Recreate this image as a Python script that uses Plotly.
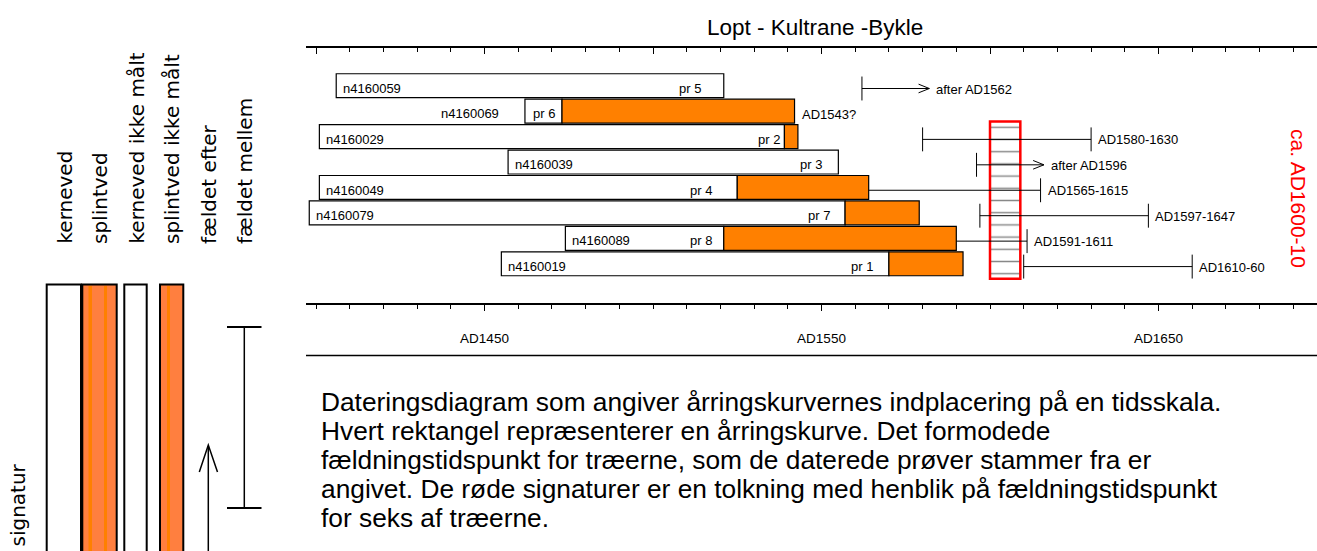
import plotly.graph_objects as go

W, H = 1317, 551

# ---------------- data ----------------
samples = ["n4160059", "n4160069", "n4160029", "n4160039",
           "n4160049", "n4160079", "n4160089", "n4160019"]
probes = ["pr 5", "pr 6", "pr 2", "pr 3", "pr 4", "pr 7", "pr 8", "pr 1"]
first_year = [1406, 1462, 1401, 1457, 1401, 1398, 1474, 1455]
sapwood_start = [None, 1473, 1539, None, 1525, 1557, 1521, 1570]
last_year = [1521, 1542, 1543, 1555, 1564, 1579, 1590, 1592]
felling_from = [1562, None, 1580, 1596, 1565, 1597, 1591, 1610]
felling_to = [None, None, 1630, None, 1615, 1647, 1611, 1660]
felling_labels = ["after AD1562", "AD1543?", "AD1580-1630", "after AD1596",
                  "AD1565-1615", "AD1597-1647", "AD1591-1611", "AD1610-60"]
tick_years = [1400, 1450, 1500, 1550, 1600, 1650]
tick_labels = ["", "AD1450", "", "AD1550", "", "AD1650"]
minor_tick_years = list(range(1400, 1700, 10))
interp_years = [1600, 1609]
interp_rows = ["n4160029", "n4160019"]
interp_label = "ca. AD1600-10"
title = "Lopt - Kultrane -Bykle"
legend_labels = ["kerneved", "splintved", "kerneved ikke målt",
                 "splintved ikke målt", "fældet efter", "fældet mellem"]
caption_lines = [
    "Dateringsdiagram som angiver årringskurvernes indplacering på en tidsskala.",
    "Hvert rektangel repræsenterer en årringskurve. Det formodede",
    "fældningstidspunkt for træerne, som de daterede prøver stammer fra er",
    "angivet. De røde signaturer er en tolkning med henblik på fældningstidspunkt",
    "for seks af træerne.",
]

# ---------------- style ----------------
ORANGE = "#FF8000"
LEG_ORANGE = "#FF7F3F"
FONT = "Liberation Sans, Arial, sans-serif"
LEG_FONT = "DejaVu Sans, sans-serif"
BAR_W = 0.94
CAP = 0.47
WY = 0.11          # whisker offset (rows)
ARROW_LEN = 20
HEAD_X, HEAD_Y = 3.2, 0.17
pr_gap_px = [22, 6, 3, 15, 24, 14, 11, 15]
name_outside = [False, True, False, False, False, False, False, False]
BOX_PAD = 0.59


def px(x):
    return x / W


def py(y):
    return 1 - y / H


n = len(samples)
rows = list(range(n))

fig = go.Figure()

# heartwood (white) segments
w_base, w_len = [], []
for i in rows:
    end = sapwood_start[i] if sapwood_start[i] is not None else last_year[i]
    w_base.append(first_year[i])
    w_len.append(end - first_year[i])
fig.add_trace(go.Bar(orientation="h", y=rows, x=w_len, base=w_base, width=BAR_W,
                     marker=dict(color="white", line=dict(color="black", width=1.2)),
                     hoverinfo="skip", showlegend=False))

# sapwood (orange) segments
o_rows, o_base, o_len = [], [], []
for i in rows:
    if sapwood_start[i] is not None:
        o_rows.append(i)
        o_base.append(sapwood_start[i])
        o_len.append(last_year[i] - sapwood_start[i])
fig.add_trace(go.Bar(orientation="h", y=o_rows, x=o_len, base=o_base, width=BAR_W,
                     marker=dict(color=ORANGE, line=dict(color="black", width=1.2)),
                     hoverinfo="skip", showlegend=False))

# red interpretation box
r0 = samples.index(interp_rows[0])
r1 = samples.index(interp_rows[1])
fig.add_trace(go.Bar(orientation="h", y=[(r0 + r1) / 2],
                     x=[interp_years[1] - interp_years[0]], base=[interp_years[0]],
                     width=[r1 - r0 + 2 * BOX_PAD],
                     marker=dict(color="white", line=dict(color="#FF0000", width=2.5),
                                 pattern=dict(shape="-", fgcolor="#111111", bgcolor="white",
                                              size=12.2, solidity=0.12)),
                     hoverinfo="skip", showlegend=False))

# felling whiskers
lx, ly = [], []


def seg(x0, y0, x1, y1):
    lx.extend([x0, x1, None])
    ly.extend([y0, y1, None])


label_x = []
for i in rows:
    f0, f1 = felling_from[i], felling_to[i]
    yc = i + WY
    if f0 is None:
        label_x.append(last_year[i])
        continue
    attached = (f0 - last_year[i]) <= 1.5
    xs = last_year[i] if attached else f0
    if f1 is None:
        xe = f0 + ARROW_LEN
        seg(f0, yc - CAP, f0, yc + CAP)
        seg(xs, yc, xe, yc)
        lx.extend([xe - HEAD_X, xe, xe - HEAD_X, None])
        ly.extend([yc - HEAD_Y, yc, yc + HEAD_Y, None])
    else:
        xe = f1
        if not attached:
            seg(f0, yc - CAP, f0, yc + CAP)
        seg(xs, yc, xe, yc)
        seg(xe, yc - CAP, xe, yc + CAP)
    label_x.append(xe)

fig.add_trace(go.Scatter(x=lx, y=ly, mode="lines", line=dict(color="black", width=1),
                         hoverinfo="skip", showlegend=False))
# dummy trace for top axis
fig.add_trace(go.Scatter(x=[1450], y=[0], xaxis="x2", mode="markers",
                         marker=dict(opacity=0), hoverinfo="skip", showlegend=False))

ann = []
lab_font = dict(family=FONT, size=13, color="black")
for i in rows:
    if name_outside[i]:
        ann.append(dict(x=first_year[i], y=i + 0.1, xref="x", yref="y", text=samples[i],
                        showarrow=False, xanchor="right", xshift=-24, font=lab_font))
    else:
        ann.append(dict(x=first_year[i], y=i + 0.1, xref="x", yref="y", text=samples[i],
                        showarrow=False, xanchor="left", xshift=5, font=lab_font))
    wend = sapwood_start[i] if sapwood_start[i] is not None else last_year[i]
    ann.append(dict(x=wend, y=i + 0.1, xref="x", yref="y", text=probes[i],
                    showarrow=False, xanchor="right", xshift=-pr_gap_px[i] + 1, font=lab_font))
    ann.append(dict(x=label_x[i], y=i + 0.13, xref="x", yref="y", text=felling_labels[i],
                    showarrow=False, xanchor="left", xshift=5, font=lab_font))

# red rotated label
ann.append(dict(x=px(1299), y=py(198), xref="paper", yref="paper", text=interp_label,
                textangle=90, showarrow=False, xanchor="center", yanchor="middle",
                font=dict(family=FONT, size=21, color="#FF0000")))
# title
ann.append(dict(x=px(815), y=py(27), xref="paper", yref="paper", text=title,
                showarrow=False, xanchor="center", yanchor="middle",
                font=dict(family=FONT, size=22.5, color="black")))
# caption
for k, line in enumerate(caption_lines):
    ann.append(dict(x=px(319), y=py(402 + 29 * k), xref="paper", yref="paper", text=line,
                    showarrow=False, xanchor="left", yanchor="middle",
                    font=dict(family=FONT, size=26.3, color="black")))

# legend labels
leg_x = [64, 100, 136, 172, 209, 245]
for t, xx in zip(legend_labels, leg_x):
    ann.append(dict(x=px(xx), y=py(246), xref="paper", yref="paper", text=t,
                    textangle=-90, showarrow=False, xanchor="center", yanchor="bottom",
                    font=dict(family=LEG_FONT, size=20, color="black")))
ann.append(dict(x=px(17), y=py(462), xref="paper", yref="paper", text="signatur",
                textangle=-90, showarrow=False, xanchor="center", yanchor="top",
                font=dict(family=LEG_FONT, size=20, color="black")))

shapes = []
# bottom frame line
shapes.append(dict(type="line", xref="paper", yref="paper", x0=px(306), x1=1,
                   y0=py(355.5), y1=py(355.5), line=dict(color="black", width=1.5)))
# legend swatches
for (x0, x1, col) in [(46.7, 81, "white"), (82.3, 116.7, LEG_ORANGE),
                      (124.3, 146.7, "white"), (160, 183.3, LEG_ORANGE)]:
    shapes.append(dict(type="rect", xref="paper", yref="paper", x0=px(x0), x1=px(x1),
                       y0=py(560), y1=py(284.5), fillcolor=col,
                       line=dict(color="black", width=2), layer="above"))
for (x0, x1) in [(88.5, 92), (104, 107), (167, 170)]:
    shapes.append(dict(type="rect", xref="paper", yref="paper", x0=px(x0), x1=px(x1),
                       y0=py(560), y1=py(286), fillcolor="#FF8000",
                       line=dict(width=0), layer="above"))
# arrow (fældet efter)
shapes.append(dict(type="line", xref="paper", yref="paper", x0=px(208.3), x1=px(208.3),
                   y0=py(446), y1=py(560), line=dict(color="black", width=1.5)))
shapes.append(dict(type="path", xref="paper", yref="paper",
                   path=f"M {px(199.3)},{py(472)} L {px(208.3)},{py(445)} L {px(217.5)},{py(472)}",
                   line=dict(color="black", width=1.5)))
# I-beam (fældet mellem)
shapes.append(dict(type="line", xref="paper", yref="paper", x0=px(244.3), x1=px(244.3),
                   y0=py(327), y1=py(508), line=dict(color="black", width=1.5)))
for yy in (327, 508):
    shapes.append(dict(type="line", xref="paper", yref="paper", x0=px(227), x1=px(261.5),
                       y0=py(yy), y1=py(yy), line=dict(color="black", width=2)))

x_left = 1450 - (484.5 - 306) / 3.37
x_right = 1450 + (1317 - 484.5) / 3.37
y_top_row = (48 - 85.7) / 25.44
y_bot_row = (303 - 85.7) / 25.44

fig.update_layout(
    width=W, height=H, margin=dict(l=0, r=0, t=0, b=0),
    paper_bgcolor="white", plot_bgcolor="white",
    barmode="overlay", showlegend=False,
    xaxis=dict(domain=[px(306), 1], range=[x_left, x_right], anchor="y",
               tickmode="array", tickvals=tick_years, ticktext=tick_labels,
               ticks="outside", ticklen=6, tickwidth=1, tickcolor="black",
               showline=True, linecolor="black", linewidth=1.5, showgrid=False,
               zeroline=False, ticklabelstandoff=16,
               tickfont=dict(family=FONT, size=13.5, color="black"),
               minor=dict(tickmode="array", tickvals=minor_tick_years, ticks="outside",
                          ticklen=4, tickwidth=1, tickcolor="black", showgrid=False)),
    xaxis2=dict(overlaying="x", side="top", anchor="y", range=[x_left, x_right],
                tickmode="array", tickvals=tick_years, showticklabels=False,
                ticks="inside", ticklen=6, tickwidth=1, tickcolor="black",
                showline=True, linecolor="black", linewidth=1.5, showgrid=False,
                zeroline=False,
                minor=dict(tickmode="array", tickvals=minor_tick_years, ticks="inside",
                           ticklen=4, tickwidth=1, tickcolor="black", showgrid=False)),
    yaxis=dict(domain=[py(303), py(48)], range=[y_bot_row, y_top_row],
               visible=False, showgrid=False, zeroline=False),
    annotations=ann, shapes=shapes,
)

fig.write_html("out.html", config={"displayModeBar": False},
               post_script="document.body.style.margin='0';")
